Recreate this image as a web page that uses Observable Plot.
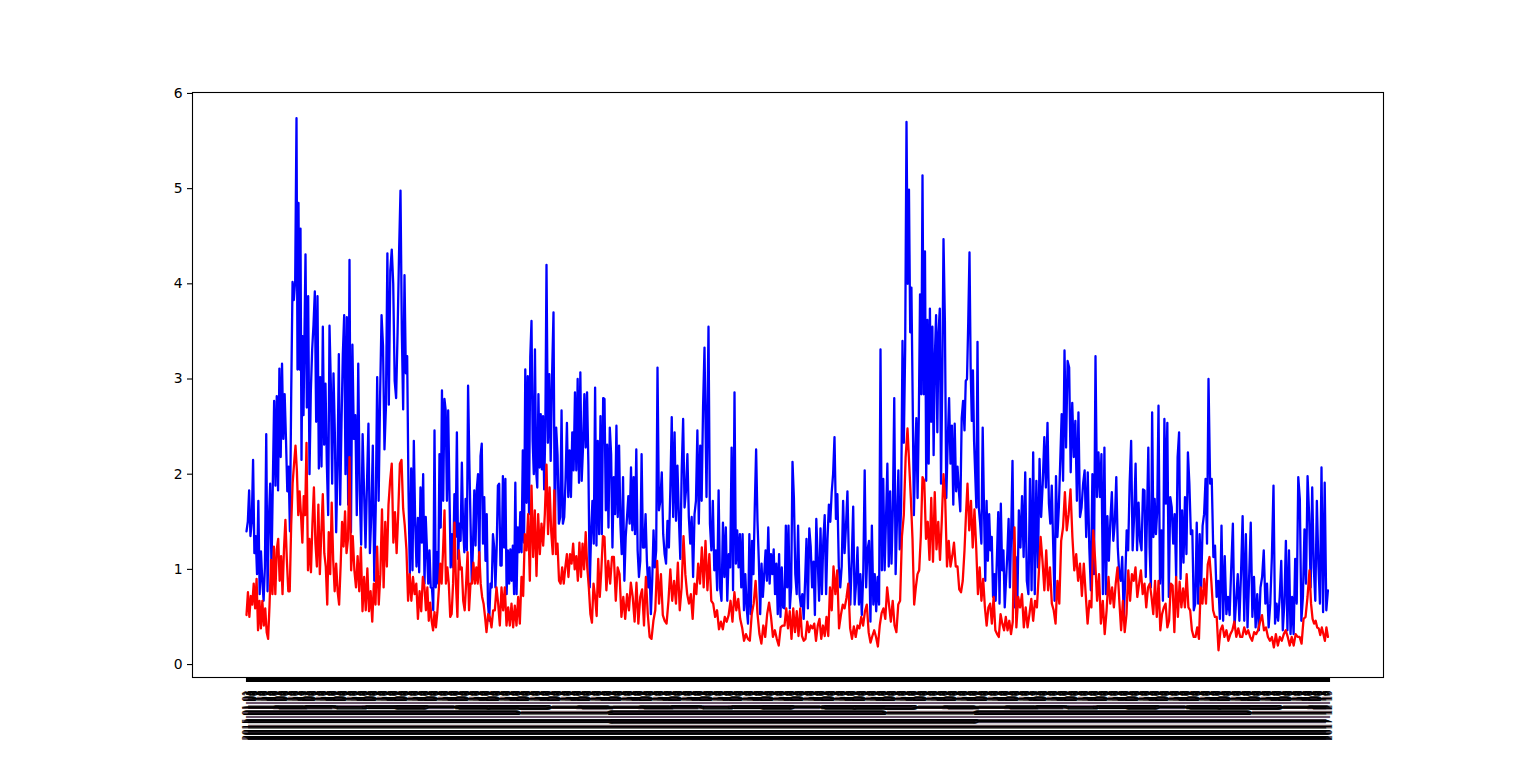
<!DOCTYPE html>
<html>
<head>
<meta charset="utf-8">
<script src="https://cdn.jsdelivr.net/npm/d3@7"></script>
<script src="https://cdn.jsdelivr.net/npm/@observablehq/plot@0.6"></script>
<style>
html,body{margin:0;padding:0;background:#fff;overflow:hidden}
svg{display:block}
</style>
</head>
<body>
<div id="chart"></div>
<script>
const blue1=[1.4,1.5,1.83,1.35,1.5,2.15,1.17,1.35,.95,1.72,.74,1.19,.88,.67,1.03,2.42,.77,1.52,1.9,1,1.9,2.77,1.88,2.82,1.83,3.11,2.18,3.16,2.37,2.84,2.37,1.82,2.08,1.4,2.87,4.02,3.83,4.03,5.74,3.1,4.85,3.1,4.58,2.15,3.45,2.62,3.49,4.31,2.7,3.87,2,2.87,3.31,3.57,3.92,2.55,3.87,2.06,3.02,2.08,3.55,2.31,2.95,2.11,1.57,3.56,2.95,1.9,3.06,2.44,1.39,2.08,3.26,1.68,2.53,3.26,3.67,2,3.65,1.68,4.25,1.39,3.36,2.37,2.62,1.57,3.16,1.82,1.26,2.42,1.82,1.23,1.9,2.53,1.17,1.59,2.3,.88,1.64,3.02,1.72,2.82,3.67,3.35,2.26,2.7,4.32,2.73,4.14,4.36,4,2.98,2.8,3.49,4.32,4.98,3.49,2.68,4.09,3.06,3.24,1.82,.95,2.06,.99,2.35,1.5,1.03,1.54,.97,1.86,1.28,2];
const red1=[.52,.76,.5,.72,.63,.85,.59,.9,.36,.67,.38,.67,.41,.59,.34,.27,.63,1.1,.74,1.24,.74,1.21,1.32,.88,1.14,.74,1.21,1.52,1.1,.77,.77,1.46,1.9,2.11,2.3,2.04,1.57,1.82,1.57,1.28,1.77,1.57,2.33,.99,1.32,.97,1.48,1.86,1.28,1.03,1.68,.95,1.39,1.79,1.17,1.03,.63,1.39,.95,1.7,1.1,.77,1.06,.77,.63,1.03,1.5,1.24,1.61,1.17,1.32,2.18,.99,1.35,.99,.81,1.14,.77,1.23,.56,.92,.57,1.01,.56,.77,.45,.85,.63,1.24,.63,.95,1.63,.81,1.5,1.03,1.68,1.93,2.11,1.28,1.6,1.17,1.6,2.11,2.15,1.64,1.46,1.21,.67,.95,.67,.92,.74,.85,.48,.77,.56,.92];
const blue2=[.85,1.55,1.2,.85,1.2,.81,.8,.57,2.46,.81,1.18,.85,2.21,1.44,2.88,1.72,2.79,2.67,1.72,2.67,1.83,1.02,1.37,1.02,1.79,1.34,2.44,1.11,1.48,1.3,2.12,1.44,1.18,1.74,1.2,2.93,2.14,1.48,.86,1.27,1.83,1.25,1.84,2,1,2.19,2.32,1.27,1.76,1.09,1.58,.64,.46,.85,.81,1.37,1.23,.81,1.23,1.88,1.9,1.04,1.04,1.98,1.23,1.95,.74,1.2,.85,1.21,.88,1.25,.74,1.91,.74,1.44,1.18,1.6,1.18,2.25,1.28,3.1,1.7,3.03,1.58,3.23,3.61,2.35,2,3.31,2.04,1.86,2.84,2.07,2.63,2.05,2.61,1.84,2.5,4.2,2.33,3.05,2.14,3.05,3.7,1.34,2.49,2.21,1.48,1.55,2.67,1.48,1.55,1.95,2.54,1.76,2.25,1.76,2.44,2.04,2.86,2.04,3,1.91,3.07,1.93,2.28,2.84,2.28,2.86,2.1,.81,1.37,1.72,1.27,2.91,1.25,2.35,1.37,2.61,1.37,2.8];
const red2=[.81,.57,.81,.46,.65,.46,.36,.55,.39,.55,.78,1.06,.85,1.2,1.62,.85,1.02,.85,.5,.53,.85,1.49,.85,.5,1.2,1,1.02,.67,.57,.85,1.18,.57,.85,.85,1.07,.85,1.02,.85,1.18,.85,.71,.64,.5,.34,.53,.5,.39,.57,.57,.81,.64,.41,.81,.57,.81,.41,.6,.41,.64,.39,.62,.41,.71,.43,.92,.72,1.37,1.2,1.58,.88,1.88,1.13,1.62,.93,1.58,1.16,1.48,1.25,1.58,2.1,1.37,1.86,1.4,1.16,1.83,1.16,1.27,.88,.85,1.02,.85,1.02,1.16,.92,1.16,1.06,1.27,1,1.14,.88,1.28,.92,1.27,1,1.39,1.02,.81,.53,.44,.85,.71,.51,1.11,.71,1,1.35];
const blue3=[2.79,1.62,2.31,1.44,2.49,2.21,1.23,1.97,1.58,2.51,1.55,2.3,1.48,1.16,1.97,.88,1.34,1.55,1.77,1.48,2.07,1.41,1.97,1.37,2.26,1.2,.92,1.09,2.21,1.23,1.23,1.58,1.09,.81,1.02,.53,.88,1.41,1.02,1.2,3.12,1.62,1.72,2.02,1.37,1.16,1.06,1.51,1.23,1.83,2.6,1.55,2.44,1.51,2.09,1.55,1.11,2.04,2.58,1.65,1.83,2.21,1.55,1.27,1.55,.92,1.58,1.72,2.46,1.48,2.3,1.72,2.72,3.33,1.76,3.55,1.48,1.2,1.72,.99,1.2,.78,1.83,.81,.67,1.49,.92,1.44,.67,1.16,1.02,2.28,.78,2.86,1.06,1.41,1.02,1.37,.81,1.37,.57,.95,.6,.43,1.37,.53,1.3,.95,1.65,2.26,1.51,1.09,.53,1.06,.71,.95,1.2,.88,1.44,.85,1.16,.95,1.21,.74,1.06,.53,1.16,.5,1.02,.6];
const red3=[1.34,.78,1.09,.85,1.13,1.13,.67,1.02,.95,.5,.71,.48,.74,.57,.86,.71,.45,.86,.43,.71,.79,.41,.92,.53,.29,.27,.46,.57,1.09,.64,.95,.52,.46,.43,.67,1,.67,.88,.64,1.07,.57,.81,1.35,.95,.74,.64,.74,.48,.85,.74,1.06,.85,1.23,.81,1.3,.78,1.16,.67,.64,.5,.57,.37,.45,.37,.5,.45,.52,.67,.45,.76,.57,.69,.48,.39,.25,.32,.27,.25,.53,.64,.88,.53,.32,.22,.41,.29,.53,.65,.5,.29,.36,.27,.2,.39,.41];
const blue4=[.59,1.46,.81,1.46,.59,.81,2.13,1.75,.95,.74,1.46,.74,.61,.74,.48,.88,1.32,.59,1.43,1.24,.81,1.08,.52,1.53,1.1,.67,1.43,.74,1.3,1.57,.74,1.32,1.68,1.5,1.81,2,2.39,1.53,1.79,1.03,.81,1.03,1.72,1.17,1.46,1.82,1.1,.63,1.1,1.66,.63,.85,1.23,.63,.95,.52,.95,2.04,.81,1.21,1.3,.45,1.46,.63,.95,.56,.92,.63,3.31,.99,1.95,.99,1.53,2.11,1.03,1.82,1.06,1.64,2.8,.95,1.53,2.04,1.21,1.68,3.4,2.33,3.31,5.7,4,4.99,3.49,3.96,2.8,1.57,2.18,2.59,1.75,2.59,3.89,2.84,5.14,2.84,4.34,1.93,3.62,2.11,3.74,2.55,3.55,2.2,3.24,3.67,2.44,3.49,3.74,1.9,2.98,4.47,3.6,1.75,2.33,2.8,2.11,2.51,1.68,2.53,1.82,2.08,1.82,1.61,2.59,2.77];
const red4=[.41,.59,.38,.56,.27,.59,.34,.56,.3,.59,.3,.25,.27,.45,.34,.41,.38,.43,.25,.41,.48,.27,.41,.3,.5,.3,.81,.57,1.03,.74,.99,.38,.52,.63,.59,.7,.85,.38,.27,.4,.29,.41,.38,.5,.41,.56,.63,.34,.23,.3,.36,.29,.19,.41,.54,.59,.48,.81,.63,.45,.67,.41,.34,.63,.67,1.35,1.57,2.18,2.48,2.11,1.75,1.32,.63,.81,.95,.99,1.35,1.97,1.93,1.32,1.5,1.1,1.75,1.08,1.81,1.21,1.5,1.1,1.5,2,1.72,1.03,1.3,1.03,1.14,1.28,1.03,1.03,.79,.76,.88];
const blue5=[2.46,2.98,3,3.6,4.33,3.12,2.56,3.09,2.35,2,1.65,3.39,1.65,1.49,1.27,2.49,1.65,.88,1.72,1.09,1.58,1.2,1.34,.71,.95,.67,1.13,1.6,.64,1.69,.99,1.2,.6,.88,1.16,1.53,.81,1.41,2.14,.6,1.13,.6,1.62,1.23,1.77,1.13,2.02,.88,.74,1.95,.78,2.23,.74,1.93,1.02,2.16,1.55,1.9,2.39,1.86,2.54,1.69,1.48,1.88,1.27,.67,1.98,1.34,1.65,2.14,2.63,1.93,3.3,2.28,3.19,3.12,2.02,2.75,2.18,2.56,1.72,2.65,1.55,1.65,1.9,2.04,1.34,2.02,1.23,.78,2,.95,3.24,1.76,2.23,1.76,2.21,.74,2.28,.74,1.56,1.09,1.51,1.81,1.3,1.49,1.97,1.23,.95,.88,1.13,.5,.88,1.41,1.2,1.91,2.35,1.2,1.55,2.11,1.2,1.7,1.3,1.2,1.84];
const red5=[1.2,1.58,1.9,1.41,1.72,1.23,1.63,1.23,.74,1.02,.67,.9,.6,.41,.6,.64,.43,.71,.36,.32,.29,.53,.43,.36,.5,.36,.46,.32,.45,1.44,.39,.71,.6,.74,.39,.6,.39,.53,.69,.46,.67,.6,.95,1.34,1.09,.78,1.2,.78,1.02,.64,.57,.43,.88,.64,1.3,1.44,1.81,1.41,1.58,1.84,1.34,.99,1.16,.88,1.06,.72,1.06,.74,.43,.67,.6,1.41,1.09,.67,.95,.43,.67,.32,.57,.92,.64,.81,.6,.85,1.02,.67,.36,.67,.34,.53,.99,.67,.95,.88,1.02,.71,.85,.99,.74];
const blue6=[1.83,.92,1.58,2.28,1.23,.81,2.65,1.34,1.74,1.37,1.62,2.72,.85,1.41,.67,2.58,1.69,2.54,.71,1.76,1.65,1.27,1.58,.92,2.18,2.44,.9,1.62,1.07,1.76,1.16,2.23,1.9,1.37,1.41,.57,.64,1.49,.64,1.37,.81,1.46,1.58,1.95,1.27,3,1.9,1.95,1.13,1.25,.71,.88,.48,1.46,.46,1.14,.53,.71,.52,1.02,1.48,.39,.67,.95,.46,.95,1.56,.46,1.37,.39,.92,1.49,.5,.92,.39,.74,.36,.81,.92,1.2,.64,.85,.39,.64,1.13,1.88,.43,.64,.46,.71,1.09,.36,.64,1.3,.36,1.2,.32,.71,.32,1.11,.64,1.97,1.74,.46,.71,1.42,.85,1.98,1.58,.81,1.86,1.02,.67,1.72,1.05,.64,2.07,.55,1.91,.57,.78];
const red6=[.85,.6,.81,.85,.71,.53,.88,.5,.88,.36,.53,.6,.64,.39,.46,.85,.83,.34,.92,.5,.87,.6,.8,.6,.95,.6,.57,.36,.29,.29,.39,.27,.81,.64,.9,.64,1.05,1.13,.88,.57,.5,.5,.15,.36,.41,.29,.36,.25,.32,.36,.45,.29,.38,.29,.29,.39,.32,.36,.29,.25,.34,.32,.36,.45,.52,.36,.39,.29,.25,.29,.18,.32,.2,.29,.25,.32,.36,.29,.2,.29,.2,.32,.29,.29,.22,.48,.5,.71,.99,.64,.48,.43,.46,.39,.38,.31,.39,.32,.25,.39,.29];

const blueSegments=[blue1,blue2,blue3,blue4,blue5,blue6];
const redSegments=[red1,red2,red3,red4,red5,red6];
const segmentStartDay=[0,178,358,538,718,898];
const segmentDays=[178,180,180,180,180,185];
// peaks: [value, day on which it occurs]
const bluePeaks=[
  [[5.74,50],[4.31,59],[4.25,103],[4.98,154]],
  [[2.46,188],[3.61,285],[4.2,300],[3.7,307]],
  [[3.12,411],[3.33,458],[3.55,462],[2.86,488]],
  [[2.13,546],[2.39,588],[3.31,634],[3.4,656],[5.7,660],[5.14,676],[4.47,697]],
  [[4.33,723],[3.39,731],[2.14,766],[2.54,801],[3.3,818],[3.24,849]],
  [[2.72,912],[3,962],[1.88,1027],[2.07,1075]]
];
const redPeaks=[
  [[2.3,49],[2.33,60],[2.18,103],[2.15,155]],
  [[1.62,198],[1.49,208],[.34,240],[1.88,285],[2.1,300]],
  [[1.35,437],[1.3,459]],
  [[1.03,587],[2.48,661],[1.97,676],[2,697]],
  [[1.9,721],[1.44,768],[1.84,824],[.92,862]],
  [[1.13,963],[.15,972],[.99,1063]]
];
const firstDay=new Date(Date.UTC(2015,0,1));
const dayCount=1084;
const dayIndex=d3.range(dayCount);
const fmtDay=d3.utcFormat("%Y-%m-%d");
const dayLabels=dayIndex.map(i=>fmtDay(d3.utcDay.offset(firstDay,i)));

function rowsOf(segs,peaks){
  return segs.flatMap((s,k)=>{
    const pairs=[[0,segmentStartDay[k]],...peaks[k].map(([v,d])=>[s.indexOf(v),d]),[s.length,segmentStartDay[k]+segmentDays[k]]];
    const toDay=d3.scaleLinear(pairs.map(p=>p[0]),pairs.map(p=>p[1]));
    return s.map((v,j)=>({day:toDay(j),value:v}));
  });
}
const blueRows=rowsOf(blueSegments,bluePeaks);
const redRows=rowsOf(redSegments,redPeaks);

const font='"DejaVu Sans"';
const chart=Plot.plot({
  width:1536,height:761,
  marginLeft:192,marginRight:153,marginTop:92,marginBottom:84,
  style:{background:"#fff",fontFamily:font,color:"#000"},
  x:{domain:[-54,1137]},
  y:{domain:[-0.136,6.01]},
  marks:[
    Plot.lineY(blueRows,{x:"day",y:"value",stroke:"#0000ff",strokeWidth:2.3,curve:"linear",strokeLinejoin:"round"}),
    Plot.lineY(redRows,{x:"day",y:"value",stroke:"#ff0000",strokeWidth:2.3,curve:"linear",strokeLinejoin:"round"}),
    Plot.frame({stroke:"#000",strokeWidth:1.1}),
    Plot.axisY({ticks:[0,1,2,3,4,5,6],tickFormat:d=>String(d),tickSize:5,tickPadding:5,fontSize:13.9,label:null,stroke:"#000",strokeWidth:1.1,fill:"#000"}),
    Plot.axisX({ticks:dayIndex,tickFormat:i=>dayLabels[i],tickRotate:-90,tickSize:5,tickPadding:8,fontSize:8.6,label:null,stroke:"#000",strokeWidth:1.1,fill:"#000"})
  ]
});
document.getElementById("chart").appendChild(chart);
</script>
</body>
</html>
